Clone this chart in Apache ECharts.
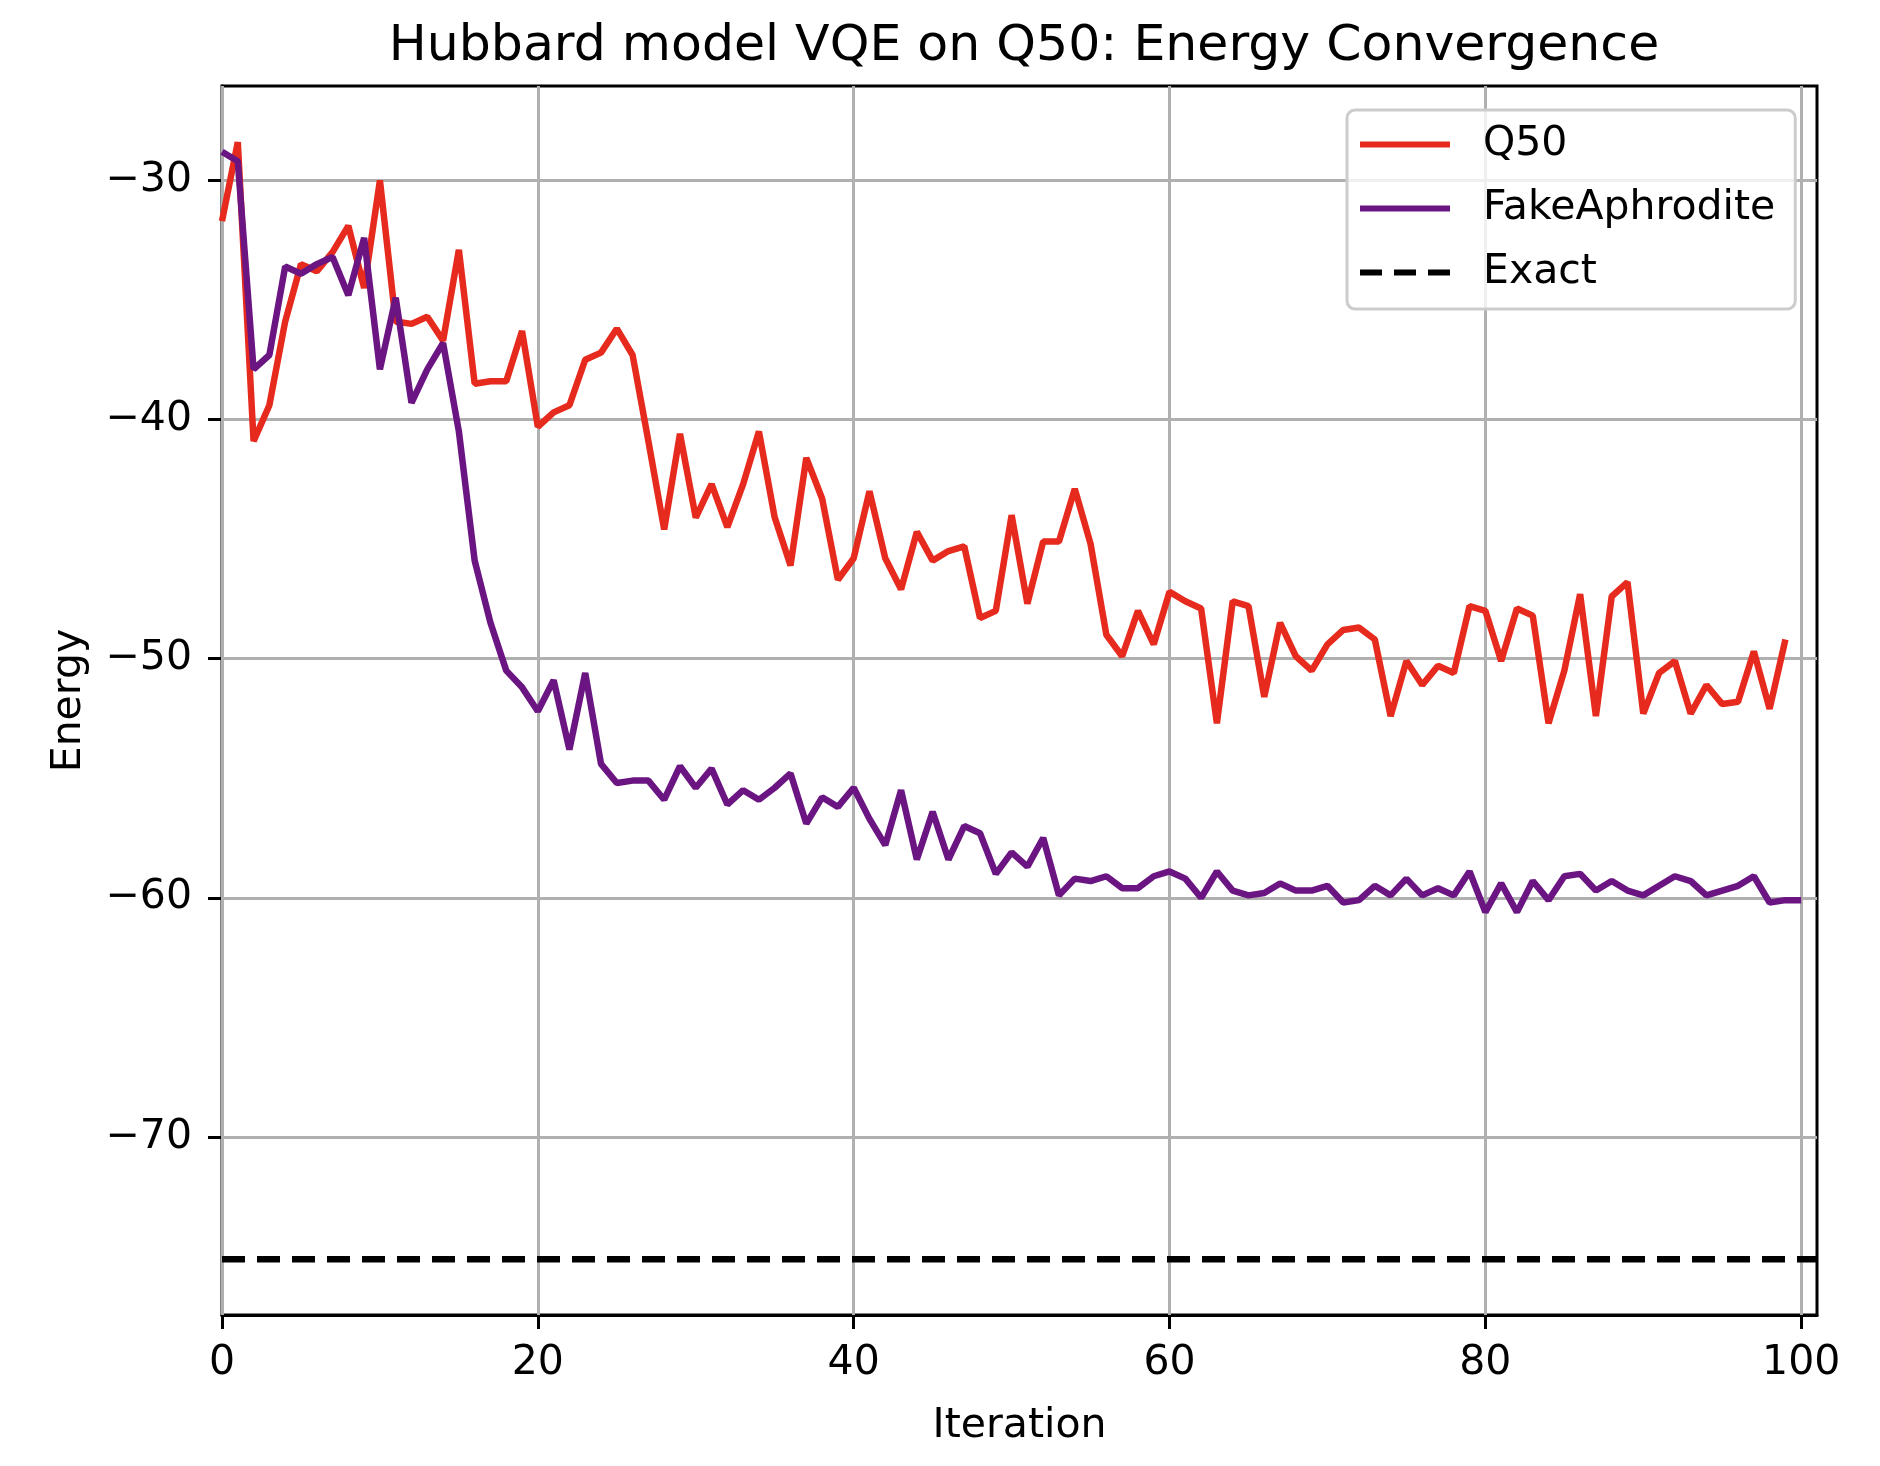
<!DOCTYPE html>
<html>
<head>
<meta charset="utf-8">
<title>Hubbard model VQE on Q50</title>
<script src="https://cdn.jsdelivr.net/npm/echarts@6/dist/echarts.min.js"></script>
<style>
  html, body { margin: 0; padding: 0; background: #fff; }
  #chart { width: 1880px; height: 1466px; }
</style>
</head>
<body>
<div id="chart"></div>
<script>
// energies per iteration
var q50 = [
  -31.7, -28.4, -40.9, -39.4, -35.9, -33.5, -33.8, -33.0, -31.9, -34.5,
  -30.0, -35.9, -36.0, -35.7, -36.7, -32.9, -38.5, -38.4, -38.4, -36.3,
  -40.3, -39.7, -39.4, -37.5, -37.2, -36.2, -37.3, -40.9, -44.6, -40.6,
  -44.1, -42.7, -44.5, -42.7, -40.5, -44.1, -46.1, -41.6, -43.3, -46.7,
  -45.8, -43.0, -45.8, -47.1, -44.7, -45.9, -45.5, -45.3, -48.3, -48.0,
  -44.0, -47.7, -45.1, -45.1, -42.9, -45.2, -49.0, -49.9, -48.0, -49.4,
  -47.2, -47.6, -47.9, -52.7, -47.6, -47.8, -51.6, -48.5, -49.9, -50.5,
  -49.4, -48.8, -48.7, -49.2, -52.4, -50.1, -51.1, -50.3, -50.6, -47.8,
  -48.0, -50.1, -47.9, -48.2, -52.7, -50.5, -47.3, -52.4, -47.4, -46.8,
  -52.3, -50.6, -50.1, -52.3, -51.1, -51.9, -51.8, -49.7, -52.1, -49.2
];
var fakeAphrodite = [
  -28.8, -29.2, -37.9, -37.3, -33.6, -33.9, -33.5, -33.2, -34.8, -32.4,
  -37.9, -34.9, -39.3, -37.9, -36.8, -40.5, -45.9, -48.5, -50.5, -51.2,
  -52.2, -50.9, -53.8, -50.6, -54.4, -55.2, -55.1, -55.1, -55.9, -54.5,
  -55.4, -54.6, -56.1, -55.5, -55.9, -55.4, -54.8, -56.9, -55.8, -56.2,
  -55.4, -56.7, -57.8, -55.5, -58.4, -56.4, -58.4, -57.0, -57.3, -59.0,
  -58.1, -58.7, -57.5, -59.9, -59.2, -59.3, -59.1, -59.6, -59.6, -59.1,
  -58.9, -59.2, -60.0, -58.9, -59.7, -59.9, -59.8, -59.4, -59.7, -59.7,
  -59.5, -60.2, -60.1, -59.5, -59.9, -59.2, -59.9, -59.6, -59.9, -58.9,
  -60.6, -59.4, -60.6, -59.3, -60.1, -59.1, -59.0, -59.7, -59.3, -59.7,
  -59.9, -59.5, -59.1, -59.3, -59.9, -59.7, -59.5, -59.1, -60.2, -60.1,
  -60.1
];
var exactEnergy = -75.12;
var xTicks = [0, 20, 40, 60, 80, 100];
var yTicks = [-70, -60, -50, -40, -30];

var FONT = 'DejaVu Sans';
var RED = '#e62a1e';
var PURPLE = '#6b1583';

function withIndex(arr) {
  return arr.map(function (v, i) { return [i, v]; });
}
function minusSign(v) {
  return String(v).replace('-', '\u2212');
}

var chart = echarts.init(document.getElementById('chart'));

var gridLines = xTicks.map(function (v) { return { xAxis: v }; })
  .concat(yTicks.map(function (v) { return { yAxis: v }; }));

// legend handles drawn like matplotlib's: a plain bar, or three dashes
var solidIcon = 'path://M0,0H90V6H0Z';
var dashIcon = 'path://M0,0H22V6H0Z M34,0H56V6H34Z M68,0H90V6H68Z';

chart.setOption({
  animation: false,
  backgroundColor: '#fff',
  textStyle: { fontFamily: FONT },
  title: {
    text: 'Hubbard model VQE on Q50: Energy Convergence',
    left: 1019,
    top: 17,
    textAlign: 'center',
    textStyle: { fontFamily: FONT, fontSize: 50.5, fontWeight: 'normal', color: '#000', lineHeight: 50 }
  },
  legend: {
    data: [
      { name: 'Q50', icon: solidIcon },
      { name: 'FakeAphrodite', icon: solidIcon },
      { name: 'Exact', icon: dashIcon }
    ],
    orient: 'vertical',
    left: 1347,
    top: 110,
    padding: [14, 20, 16, 13],
    itemWidth: 90,
    itemHeight: 6,
    itemGap: 23,
    backgroundColor: 'rgba(255,255,255,0.8)',
    borderColor: '#cccccc',
    borderWidth: 3,
    borderRadius: 8,
    textStyle: { fontFamily: FONT, fontSize: 41, color: '#000', lineHeight: 41, padding: [0, 0, 0, 28] }
  },
  grid: {
    left: 222,
    top: 86,
    width: 1595,
    height: 1229,
    show: true,
    borderColor: '#000',
    borderWidth: 3,
    backgroundColor: 'transparent'
  },
  xAxis: {
    type: 'value',
    min: 0,
    max: 101,
    name: 'Iteration',
    nameLocation: 'middle',
    nameGap: 91,
    nameTextStyle: { fontFamily: FONT, fontSize: 41, color: '#000', lineHeight: 41 },
    axisLine: { show: true, onZero: false, lineStyle: { color: '#000', width: 3 } },
    axisTick: { show: true, customValues: xTicks, length: 14, lineStyle: { color: '#000', width: 3 } },
    axisLabel: { customValues: xTicks, margin: 28, fontFamily: FONT, fontSize: 41, color: '#000', lineHeight: 41 },
    splitLine: { show: false }
  },
  yAxis: {
    type: 'value',
    min: -77.45,
    max: -26.05,
    name: 'Energy',
    nameLocation: 'middle',
    nameGap: 132,
    nameTextStyle: { fontFamily: FONT, fontSize: 41, color: '#000', lineHeight: 41 },
    axisLine: { show: true, onZero: false, lineStyle: { color: '#000', width: 3 } },
    axisTick: { show: true, customValues: yTicks, length: 14, lineStyle: { color: '#000', width: 3 } },
    axisLabel: { customValues: yTicks, margin: 30, fontFamily: FONT, fontSize: 41, color: '#000', formatter: minusSign },
    splitLine: { show: false }
  },
  series: [
    {
      // grid lines, kept under the data
      name: 'grid',
      type: 'line',
      data: [],
      silent: true,
      markLine: {
        silent: true,
        z: 1,
        symbol: ['none', 'none'],
        label: { show: false },
        emphasis: { disabled: true },
        lineStyle: { color: '#b0b0b0', width: 3, type: 'solid' },
        data: gridLines
      }
    },
    {
      name: 'Q50',
      type: 'line',
      data: withIndex(q50),
      symbol: 'none',
      z: 3,
      lineStyle: { color: RED, width: 6.5 },
      itemStyle: { color: RED }
    },
    {
      name: 'FakeAphrodite',
      type: 'line',
      data: withIndex(fakeAphrodite),
      symbol: 'none',
      z: 3,
      lineStyle: { color: PURPLE, width: 6.5 },
      itemStyle: { color: PURPLE }
    },
    {
      name: 'Exact',
      type: 'line',
      data: [[0, exactEnergy], [101, exactEnergy]],
      symbol: 'none',
      z: 3,
      lineStyle: { color: '#000', width: 6.5, type: [23, 12] },
      itemStyle: { color: '#000' }
    }
  ]
});

window.onresize = function () {
  chart.resize();
};
</script>
</body>
</html>
